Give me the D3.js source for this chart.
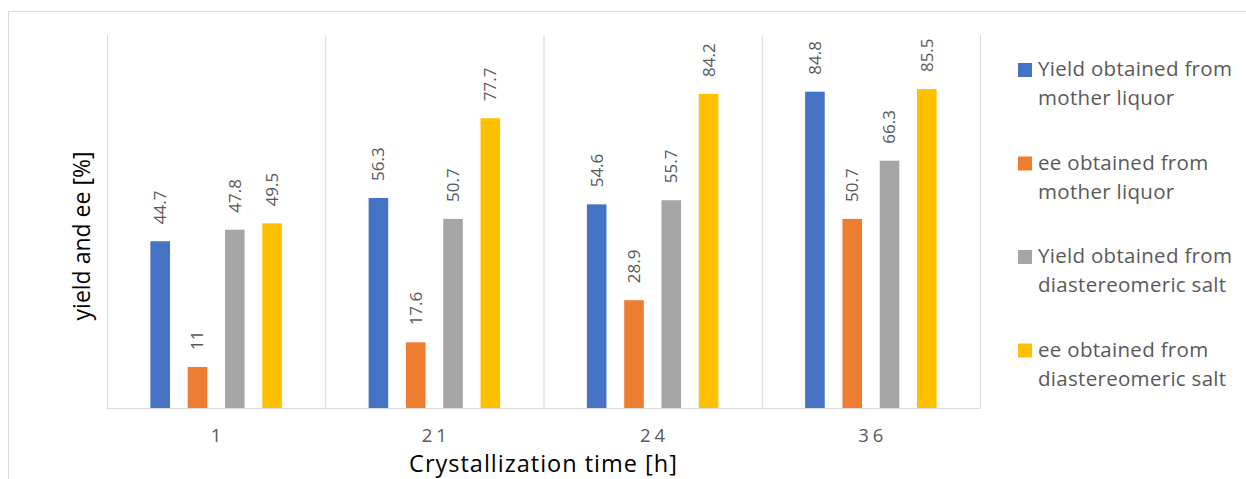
<!DOCTYPE html>
<html>
<head>
<meta charset="utf-8">
<script src="https://cdn.jsdelivr.net/npm/d3@7"></script>
<style>
  body { margin: 0; background: #fff; }
  svg { display: block; font-family: "Open Sans", sans-serif; }
</style>
</head>
<body>
<svg id="chart" width="1246" height="479"></svg>
<script>
const categories = ['1', '21', '24', '36'];
const seriesNames = [
    ['Yield obtained from', 'mother liquor'],
    ['ee obtained from', 'mother liquor'],
    ['Yield obtained from', 'diastereomeric salt'],
    ['ee obtained from', 'diastereomeric salt'],
];
const yieldMother = [44.7, 56.3, 54.6, 84.8];
const eeMother = [11, 17.6, 28.9, 50.7];
const yieldSalt = [47.8, 50.7, 55.7, 66.3];
const eeSalt = [49.5, 77.7, 84.2, 85.5];
const colors = ['#4472C4', '#ED7D31', '#A5A5A5', '#FFC000'];

const series = [yieldMother, eeMother, yieldSalt, eeSalt];
const keys = d3.range(series.length);

const plot = { left: 107, right: 980, top: 35, bottom: 408 };
const svg = d3.select('#chart');

// outer chart border
svg.append('rect')
    .attr('x', 8.5).attr('y', 11.5)
    .attr('width', 1400).attr('height', 600)
    .attr('fill', 'none')
    .attr('stroke', '#D9D9D9');

const x0 = d3.scaleBand().domain(categories).range([plot.left, plot.right]);
const x1 = d3.scaleBand().domain(keys)
    .range([0, x0.bandwidth()])
    .paddingInner(0.475)
    .paddingOuter(1.163);
const y = d3.scaleLinear().domain([0, 100]).range([plot.bottom, plot.top]);

// vertical separators between categories
const bounds = categories.map((c) => x0(c)).concat([plot.right]);
svg.append('g').selectAll('line')
    .data(bounds)
    .join('line')
    .attr('x1', (d) => d + 0.5).attr('x2', (d) => d + 0.5)
    .attr('y1', plot.top).attr('y2', plot.bottom)
    .attr('stroke', '#D9D9D9');

// bars
const groups = svg.append('g').selectAll('g')
    .data(categories)
    .join('g')
    .attr('transform', (c) => `translate(${x0(c)},0)`);

groups.selectAll('rect')
    .data((c, i) => keys.map((k) => ({ k, v: series[k][i] })))
    .join('rect')
    .attr('x', (d) => x1(d.k))
    .attr('width', x1.bandwidth())
    .attr('y', (d) => y(d.v))
    .attr('height', (d) => plot.bottom - y(d.v))
    .attr('fill', (d) => colors[d.k]);

groups.selectAll('text')
    .data((c, i) => keys.map((k) => ({ k, v: series[k][i] })))
    .join('text')
    .attr('transform', (d) => `translate(${x1(d.k) + x1.bandwidth() / 2},${y(d.v) - 17}) rotate(-90)`)
    .attr('dy', '0.35em')
    .attr('fill', '#595959')
    .attr('font-size', 17)
    .text((d) => d.v);

// x axis
const xAxis = d3.axisBottom(x0).tickSize(0).tickPadding(0);
const xAxisGroup = svg.append('g')
    .attr('transform', `translate(0,${plot.bottom})`)
    .call(xAxis);
xAxisGroup.select('.domain')
    .attr('d', `M${plot.left},0.5H${plot.right}`)
    .attr('stroke', '#D9D9D9');
xAxisGroup.selectAll('text')
    .attr('y', 34)
    .attr('dy', 0)
    .attr('dx', 2)
    .attr('fill', '#595959')
    .attr('font-family', '"Open Sans", sans-serif')
    .attr('font-size', 18.5)
    .attr('letter-spacing', 4);

// axis titles
svg.append('text')
    .attr('x', (plot.left + plot.right) / 2)
    .attr('y', 472)
    .attr('text-anchor', 'middle')
    .attr('font-size', 23.5)
    .attr('letter-spacing', 1)
    .attr('fill', '#000')
    .text('Crystallization time [h]');

svg.append('text')
    .attr('transform', `translate(90,236) rotate(-90)`)
    .attr('text-anchor', 'middle')
    .attr('font-size', 23)
    .attr('fill', '#000')
    .text('yield and ee [%]');

// legend
const legend = svg.append('g').selectAll('g')
    .data(keys)
    .join('g')
    .attr('transform', (k) => `translate(1018,${76 + k * 93.5})`);
legend.append('rect')
    .attr('x', 0).attr('y', -13)
    .attr('width', 14).attr('height', 14)
    .attr('fill', (k) => colors[k]);
legend.append('text')
    .attr('x', 20)
    .attr('font-size', 20.5)
    .attr('letter-spacing', 0.3)
    .attr('fill', '#595959')
    .selectAll('tspan')
    .data((k) => seriesNames[k])
    .join('tspan')
    .attr('x', 20)
    .attr('dy', (d, i) => (i === 0 ? 0 : 29))
    .text((d) => d);
</script>
</body>
</html>
